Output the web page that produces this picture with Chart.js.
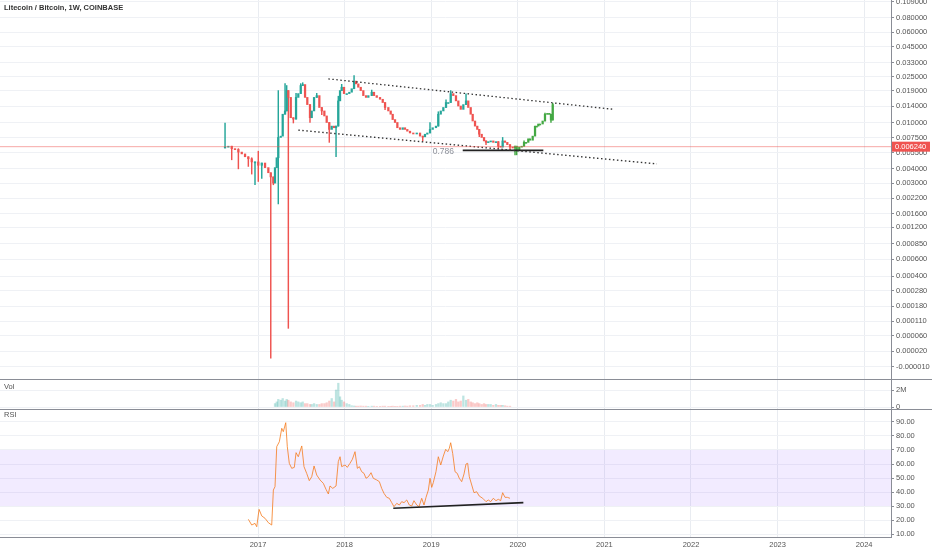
<!DOCTYPE html>
<html lang="en">
<head>
<meta charset="UTF-8">
<title>Litecoin / Bitcoin, 1W, COINBASE</title>
<script src="https://cdn.jsdelivr.net/npm/chart.js"></script>
<style>
  body { margin: 0; background: #fff; font-family: 'Liberation Sans', Arial, sans-serif; }
  #wrap { position: relative; width: 932px; height: 550px; overflow: hidden; }
  canvas { position: absolute; left: 0; }
  .lbl { position: absolute; left: 4px; font-size: 7.5px; color: #555; }
</style>
</head>
<body>
<div id="wrap">
  <canvas id="price" width="932" height="380" style="top:0"></canvas>
  <canvas id="vol" width="932" height="30" style="top:380px"></canvas>
  <canvas id="rsi" width="932" height="140" style="top:410px"></canvas>
  <div class="lbl" style="top:3px; font-weight:bold; color:#333">Litecoin / Bitcoin, 1W, COINBASE</div>
  <div class="lbl" style="top:382px">Vol</div>
  <div class="lbl" style="top:410px">RSI</div>
</div>

<script>
// dates as decimal years, weekly candles
const dates = [
  2016.619, 2016.657, 2016.696, 2016.734, 2016.773, 2016.812, 2016.850, 2016.888, 2016.927, 2016.965,
  2017.003, 2017.043, 2017.081, 2017.119, 2017.147, 2017.177, 2017.196, 2017.216, 2017.234, 2017.262,
  2017.285, 2017.312, 2017.331, 2017.350, 2017.378, 2017.408, 2017.439, 2017.465, 2017.493, 2017.516,
  2017.543, 2017.569, 2017.600, 2017.620, 2017.647, 2017.678, 2017.708, 2017.736, 2017.766, 2017.793,
  2017.823, 2017.851, 2017.878, 2017.901, 2017.927, 2017.947, 2017.966, 2017.993, 2018.024, 2018.054,
  2018.082, 2018.109, 2018.132, 2018.158, 2018.186, 2018.216, 2018.247, 2018.274, 2018.313, 2018.339,
  2018.371, 2018.409, 2018.440, 2018.467, 2018.505, 2018.532, 2018.555, 2018.582, 2018.609, 2018.640,
  2018.671, 2018.697, 2018.724, 2018.755, 2018.793, 2018.833, 2018.871, 2018.902, 2018.928, 2018.955,
  2018.986, 2019.017, 2019.055, 2019.082, 2019.110, 2019.140, 2019.171, 2019.197, 2019.225, 2019.255,
  2019.286, 2019.313, 2019.341, 2019.371, 2019.402, 2019.428, 2019.456, 2019.479, 2019.506, 2019.532,
  2019.555, 2019.583, 2019.610, 2019.633, 2019.659, 2019.687, 2019.717, 2019.748, 2019.775, 2019.802,
  2019.825, 2019.852, 2019.879, 2019.910, 2019.941, 2019.968, 2019.987, 2020.017, 2020.045, 2020.072,
  2020.095, 2020.121, 2020.141, 2020.172, 2020.199, 2020.218, 2020.237, 2020.256, 2020.287, 2020.314,
  2020.341, 2020.364, 2020.383, 2020.403
];

const firstOpen = 0.0061;
const closes = [
  0.0062, 0.0063, 0.0060, 0.0059, 0.0056, 0.0054, 0.0051, 0.0049, 0.0046, 0.0046,
  0.0043, 0.0045, 0.0041, 0.0037, 0.0034, 0.0030, 0.0041, 0.0050, 0.0075, 0.0077,
  0.0119, 0.0127, 0.0190, 0.0166, 0.0111, 0.0108, 0.0166, 0.0179, 0.0210, 0.0214,
  0.0166, 0.0144, 0.0111, 0.0127, 0.0166, 0.0172, 0.0136, 0.0127, 0.0115, 0.0101,
  0.0088, 0.0094, 0.0091, 0.0094, 0.0155, 0.0190, 0.0203, 0.0179, 0.0179, 0.0184,
  0.0197, 0.0229, 0.0217, 0.0203, 0.0190, 0.0172, 0.0166, 0.0172, 0.0184, 0.0172,
  0.0166, 0.0160, 0.0150, 0.0136, 0.0127, 0.0119, 0.0107, 0.0101, 0.0091, 0.0088,
  0.0091, 0.0088, 0.0085, 0.0082, 0.0081, 0.0082, 0.0077, 0.0076, 0.0080, 0.0082,
  0.0088, 0.0091, 0.0094, 0.0119, 0.0127, 0.0136, 0.0150, 0.0150, 0.0179, 0.0172,
  0.0155, 0.0140, 0.0131, 0.0144, 0.0155, 0.0136, 0.0119, 0.0104, 0.0094, 0.0088,
  0.0080, 0.0075, 0.0070, 0.0068, 0.0069, 0.0070, 0.0068, 0.0069, 0.0063, 0.0062,
  0.0070, 0.0068, 0.0065, 0.0062, 0.0061, 0.0063, 0.0058, 0.0062, 0.0063, 0.0068,
  0.0068, 0.0073, 0.0071, 0.0077, 0.0094, 0.0094, 0.0098, 0.0098, 0.0104, 0.0119,
  0.0121, 0.0119, 0.0106, 0.0144
];

const highs = [
  0.0100, null, null, null, 0.0060, null, null, null, 0.0050, null,
  0.0057, null, null, null, null, null, null, null, 0.0190, null,
  null, 0.0218, 0.0210, null, null, null, 0.0180, null, 0.0218, 0.0222,
  null, null, null, null, null, 0.0180, null, null, null, null,
  null, null, null, null, 0.0170, null, 0.0215, null, null, null,
  null, 0.0256, null, null, null, null, null, null, 0.0192, null,
  null, null, null, null, null, null, null, null, null, null,
  null, null, null, null, null, null, null, null, null, null,
  0.0101, null, null, 0.0125, null, null, 0.0158, null, 0.0190, null,
  null, null, null, null, 0.0178, null, null, null, null, null,
  null, null, null, null, null, null, null, null, null, null,
  0.0075, null, null, null, null, null, null, null, null, 0.0070,
  null, null, null, null, null, null, null, null, null, 0.0122,
  null, null, null, 0.0148
];

const lows = [
  null, null, 0.0048, null, 0.0040, null, null, 0.0042, 0.0036, 0.0029,
  0.0031, 0.0033, null, null, 0.000005, 0.0029, null, null, 0.00196, null,
  null, null, null, 0.000084, null, 0.0100, null, null, null, null,
  null, null, 0.0101, null, null, null, null, 0.0118, null, null,
  0.0068, null, null, 0.0051, null, null, null, null, null, null,
  null, null, null, null, null, null, null, null, null, null,
  null, null, null, 0.0130, null, null, null, null, null, null,
  null, null, null, null, null, null, null, 0.0070, null, null,
  null, null, null, null, null, null, null, null, null, null,
  null, null, null, null, null, null, null, null, null, null,
  0.0076, null, null, 0.0065, null, null, null, null, 0.0060, null,
  null, null, null, 0.0059, null, 0.0053, 0.0053, null, null, null,
  null, null, null, null, null, null, null, null, null, null,
  null, null, 0.0101, null
];

// volume in millions, same dates as candles
const volumesM = [
  null, null, null, null, null, null, null, null, null, null,
  null, null, null, null, null, null, 0.4, 0.6, 0.9, 0.8,
  1.0, 0.7, 0.9, 0.8, 0.6, 0.5, 0.7, 0.6, 0.5, 0.6,
  0.4, 0.4, 0.3, 0.3, 0.4, 0.3, 0.3, 0.4, 0.4, 0.5,
  0.7, 1.0, 0.6, 2.0, 2.8, 1.2, 0.8, 0.6, 0.4, 0.3,
  0.15, 0.12, 0.1, 0.1, 0.12, 0.1, 0.1, 0.08, 0.1, 0.1,
  0.08, 0.08, 0.1, 0.1, 0.08, 0.08, 0.1, 0.08, 0.08, 0.1,
  0.1, 0.12, 0.1, 0.15, 0.15, 0.2, 0.2, 0.3, 0.2, 0.3,
  0.3, 0.2, 0.3, 0.4, 0.5, 0.4, 0.4, 0.6, 0.8, 0.7,
  0.9, 0.6, 0.7, 1.3, 0.8, 0.9, 0.6, 0.5, 0.4, 0.5,
  0.4, 0.3, 0.4, 0.3, 0.3, 0.3, 0.2, 0.3, 0.2, 0.2,
  0.2, 0.15, 0.1, 0.1, null, null, null, null, null, null,
  null, null, null, null, null, null, null, null, null, null,
  null, null, null, null
];

const rsiDates = [
  2016.888, 2016.927, 2016.965, 2016.985, 2017.012, 2017.043, 2017.081, 2017.119, 2017.158, 2017.177,
  2017.196, 2017.216, 2017.246, 2017.274, 2017.292, 2017.320, 2017.338, 2017.361, 2017.389, 2017.419,
  2017.439, 2017.465, 2017.505, 2017.531, 2017.562, 2017.592, 2017.620, 2017.647, 2017.678, 2017.716,
  2017.754, 2017.785, 2017.812, 2017.831, 2017.863, 2017.901, 2017.927, 2017.947, 2017.966, 2018.005,
  2018.031, 2018.062, 2018.089, 2018.120, 2018.147, 2018.170, 2018.197, 2018.224, 2018.247, 2018.274,
  2018.305, 2018.331, 2018.371, 2018.401, 2018.428, 2018.455, 2018.486, 2018.516, 2018.544, 2018.570,
  2018.602, 2018.632, 2018.659, 2018.686, 2018.717, 2018.747, 2018.775, 2018.801, 2018.833, 2018.859,
  2018.890, 2018.917, 2018.940, 2018.967, 2018.986, 2019.006, 2019.024, 2019.055, 2019.082, 2019.110,
  2019.140, 2019.167, 2019.191, 2019.209, 2019.225, 2019.248, 2019.275, 2019.301, 2019.324, 2019.352,
  2019.379, 2019.402, 2019.421, 2019.440, 2019.468, 2019.494, 2019.525, 2019.555, 2019.595, 2019.633,
  2019.659, 2019.687, 2019.717, 2019.748, 2019.775, 2019.802, 2019.825, 2019.852, 2019.879, 2019.910
];
const rsiValues = [
  20.5, 16.4, 17.6, 15.2, 27.6, 22.9, 21.2, 18.1, 16.4, 41.4,
  43.8, 72.4, 75.9, 85.5, 83.1, 89.5, 72.4, 60.5, 56.9, 57.6,
  68.1, 65.2, 72.9, 58.1, 53.3, 48.1, 50.9, 58.6, 52.1, 48.6,
  46.2, 41.9, 38.6, 44.3, 42.6, 44.3, 61.7, 65.2, 58.1, 59.3,
  57.6, 60.5, 63.3, 68.8, 56.9, 58.1, 54.5, 53.3, 49.8, 50.9,
  53.8, 49.8, 48.6, 47.4, 42.6, 39.0, 36.2, 35.5, 32.4, 29.5,
  31.9, 30.7, 33.1, 32.4, 34.3, 30.7, 30.0, 33.8, 30.7, 29.5,
  35.5, 30.7, 36.2, 41.4, 49.8, 43.3, 46.7, 54.5, 65.2, 59.3,
  65.7, 70.5, 68.8, 71.2, 75.2, 67.6, 54.5, 53.3, 49.8, 47.4,
  52.9, 60.0, 60.5, 50.9, 45.0, 39.5, 40.2, 37.1, 35.5, 33.1,
  34.3, 33.1, 35.5, 33.8, 34.8, 33.8, 39.5, 36.2, 36.2, 35.5
];

// drawings on the chart
const upperTrend = [[2017.812, 0.02395], [2021.099, 0.01313]];
const lowerTrend = [[2017.465, 0.00868], [2021.607, 0.00442]];
const fibLine = [[2019.364, 0.0058], [2020.295, 0.0058]];
const fibLabel = { text: '0.786', x: 2019.14, price: 0.0056 };
const rsiTrend = [[2018.562, 28.4], [2020.064, 32.4]];
const rsiBand = [30, 70];
const lastPrice = 0.00624;
const greenFrom = 115; // bars painted green from here on

const priceTicks = [0.109, 0.08, 0.06, 0.045, 0.033, 0.025, 0.019, 0.014, 0.010, 0.0075, 0.0055,
  0.004, 0.003, 0.0022, 0.0016, 0.0012, 0.00085, 0.0006, 0.0004, 0.00028, 0.00018, 0.00011,
  0.00006, 0.00002, -0.00001];
const volTicks = [0, 2];
const volTickLabels = ['0', '2M'];
const rsiTicks = [10, 20, 30, 40, 50, 60, 70, 80, 90];
const yearTicks = [2017, 2018, 2019, 2020, 2021, 2022, 2023, 2024];

const FONT = "'Liberation Sans', Arial, sans-serif";
const AXIS = '#8a8d96';
const GRID = '#eff1f5';
const UP = '#26a69a', DOWN = '#ef5350', GREEN = '#43a843';

// TradingView style log scale that allows small negatives
const SHIFT = 0.0000937;
const tf = v => Math.log(v + SHIFT);

const opens = closes.map((c, i) => i === 0 ? firstOpen : closes[i - 1]);
const barColor = closes.map((c, i) => i >= greenFrom ? GREEN : (c >= opens[i] ? UP : DOWN));

function noPad(s) {
  s.paddingTop = 0; s.paddingBottom = 0; s.paddingLeft = 0; s.paddingRight = 0;
}

function xAxis(showLabels) {
  return {
    type: 'linear', min: 2014.02, max: 2024.31, offset: false,
    afterBuildTicks: s => { s.ticks = yearTicks.map(v => ({ value: v })); },
    grid: { color: '#e9ecf1', drawTicks: false, offset: false },
    border: { display: showLabels, color: AXIS },
    ticks: { display: showLabels, color: '#555', font: { size: 7.5, family: FONT }, padding: 3,
      autoSkip: false, maxRotation: 0, callback: v => String(v) },
    afterFit: s => { s.height = showLabels ? 13 : 0; noPad(s); }
  };
}

function yAxis(min, max, ticks, label) {
  return {
    position: 'right', min: min, max: max,
    afterBuildTicks: s => { s.ticks = ticks.map(v => ({ value: v })); },
    grid: { color: GRID, tickColor: AXIS, tickLength: 3 },
    border: { color: AXIS },
    ticks: { color: '#555', font: { size: 7.5, family: FONT }, padding: 2, autoSkip: false,
      callback: (v, i) => label(i) },
    afterFit: s => { s.width = 41; noPad(s); }
  };
}

const paneBottom = {
  id: 'paneBottom',
  afterDraw(chart) {
    const c = chart.ctx, y = Math.round(chart.chartArea.bottom) - 0.5;
    c.save();
    c.strokeStyle = AXIS; c.lineWidth = 1;
    c.beginPath(); c.moveTo(0, y); c.lineTo(chart.width, y); c.stroke();
    c.restore();
  }
};

const priceTag = {
  id: 'priceTag',
  afterDraw(chart) {
    const c = chart.ctx, ys = chart.scales.y, xs = chart.scales.x;
    const y = ys.getPixelForValue(tf(lastPrice));
    c.save();
    c.fillStyle = DOWN;
    c.fillRect(ys.left + 1, y - 5, 38, 10);
    c.fillStyle = '#fff';
    c.font = '7.5px ' + FONT;
    c.textBaseline = 'middle';
    c.fillText(lastPrice.toFixed(6), ys.left + 4, y + 0.5);
    // fib level text
    c.fillStyle = '#8d9099';
    c.font = '8.5px ' + FONT;
    c.textAlign = 'center';
    c.fillText(fibLabel.text, xs.getPixelForValue(fibLabel.x), ys.getPixelForValue(tf(fibLabel.price)));
    c.restore();
  }
};

const band = {
  id: 'band',
  beforeDatasetsDraw(chart) {
    const c = chart.ctx, a = chart.chartArea, ys = chart.scales.y;
    const top = ys.getPixelForValue(rsiBand[1]), bot = ys.getPixelForValue(rsiBand[0]);
    c.save();
    c.fillStyle = 'rgba(150, 90, 255, 0.12)';
    c.fillRect(a.left, top, a.right - a.left, bot - top);
    c.restore();
  }
};

function seg(points, color, width, dash, transform) {
  return {
    type: 'line',
    data: points.map(p => ({ x: p[0], y: transform(p[1]) })),
    borderColor: color, borderWidth: width, borderDash: dash,
    pointRadius: 0, fill: false, order: 0
  };
}

const common = {
  responsive: false,
  animation: false,
  layout: { padding: 0 },
  plugins: { legend: { display: false }, tooltip: { enabled: false } }
};

// ---- price pane
const wickData = [], wickColor = [];
dates.forEach((d, i) => {
  if (highs[i] === null && lows[i] === null) return;
  const lo = lows[i] !== null ? lows[i] : Math.min(opens[i], closes[i]);
  const hi = highs[i] !== null ? highs[i] : Math.max(opens[i], closes[i]);
  wickData.push({ x: d, y: [tf(lo), tf(hi)] });
  wickColor.push(barColor[i]);
});

new Chart(document.getElementById('price'), {
  type: 'bar',
  data: {
    datasets: [
      seg([[2014.02, lastPrice], [2024.31, lastPrice]], 'rgba(239,83,80,0.5)', 1, [], tf),
      seg(upperTrend, '#333', 1.3, [1.5, 2.5], tf),
      seg(lowerTrend, '#333', 1.3, [1.5, 2.5], tf),
      seg(fibLine, '#222', 1.6, [], tf),
      {
        data: dates.map((d, i) => ({ x: d, y: [tf(opens[i]), tf(closes[i])] })),
        backgroundColor: barColor, barThickness: 1.6, minBarLength: 1, grouped: false, order: 1
      },
      {
        data: wickData, backgroundColor: wickColor, barThickness: 0.8, grouped: false, order: 2
      }
    ]
  },
  options: Object.assign({}, common, {
    scales: {
      x: xAxis(false),
      y: yAxis(tf(-0.0000294), tf(0.11336), priceTicks.map(tf), i => priceTicks[i].toFixed(6))
    }
  }),
  plugins: [paneBottom, priceTag]
});

// ---- volume pane
const volData = [], volColor = [];
dates.forEach((d, i) => {
  if (volumesM[i] === null) return;
  volData.push({ x: d, y: volumesM[i] });
  volColor.push(closes[i] >= opens[i] ? 'rgba(38,166,154,0.3)' : 'rgba(239,83,80,0.3)');
});

new Chart(document.getElementById('vol'), {
  type: 'bar',
  data: { datasets: [{ data: volData, backgroundColor: volColor, barThickness: 1.6, grouped: false }] },
  options: Object.assign({}, common, {
    scales: { x: xAxis(false), y: yAxis(-0.353, 3.18, volTicks, i => volTickLabels[i]) }
  }),
  plugins: [paneBottom]
});

// ---- RSI pane
new Chart(document.getElementById('rsi'), {
  type: 'line',
  data: {
    datasets: [
      seg(rsiTrend, '#222', 1.6, [], v => v),
      {
        data: rsiDates.map((d, i) => ({ x: d, y: rsiValues[i] })),
        borderColor: 'rgba(245,124,30,0.8)', borderWidth: 1, pointRadius: 0, tension: 0, order: 1
      }
    ]
  },
  options: Object.assign({}, common, {
    scales: { x: xAxis(true), y: yAxis(7.86, 98.57, rsiTicks, i => rsiTicks[i].toFixed(2)) }
  }),
  plugins: [band]
});
</script>
</body>
</html>
